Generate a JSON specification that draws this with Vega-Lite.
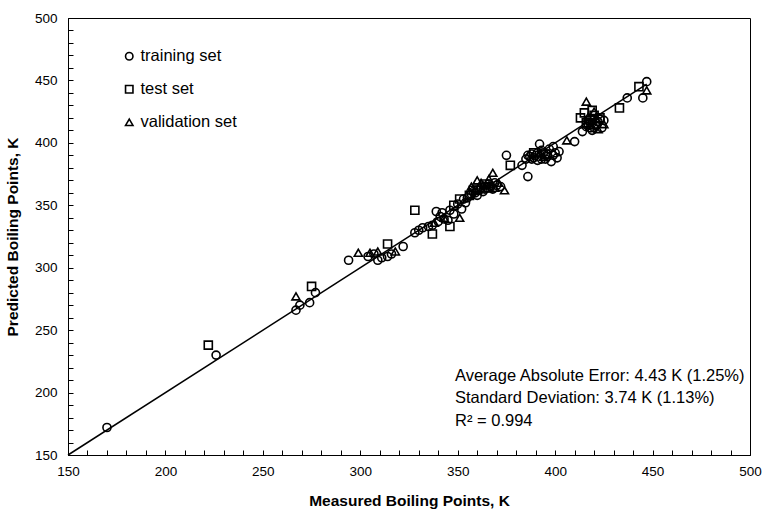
{
  "$schema": "https://vega.github.io/schema/vega-lite/v6.json",
  "width": 682,
  "height": 437,
  "autosize": {"type": "none"},
  "padding": {"left": 68, "top": 18, "right": 15, "bottom": 57},
  "background": "white",
  "config": {
    "view": {"stroke": "black", "strokeWidth": 1},
    "font": "Liberation Sans",
    "axis": {
      "grid": false,
      "domainColor": "black",
      "domainWidth": 1,
      "tickColor": "black",
      "tickWidth": 1,
      "tickSize": -5,
      "labelFont": "Liberation Sans",
      "labelFontSize": 13.5,
      "labelColor": "black",
      "titleFont": "Liberation Sans",
      "titleFontSize": 15.5,
      "titleFontWeight": "bold",
      "titleColor": "black"
    }
  },
  "resolve": {"axis": {"x": "independent", "y": "independent"}},
  "layer": [
    {
      "data": {"values": [{"measured": 150, "predicted": 150}, {"measured": 447, "predicted": 447}]},
      "mark": {"type": "line", "color": "black", "strokeWidth": 1.5},
      "encoding": {
        "x": {
          "field": "measured", "type": "quantitative",
          "scale": {"domain": [150, 500], "nice": false, "zero": false},
          "axis": {
            "orient": "bottom", "title": null, "labels": false, "domain": false,
            "values": [160,170,180,190,210,220,230,240,260,270,280,290,310,320,330,340,360,370,380,390,410,420,430,440,460,470,480,490]
          }
        },
        "y": {
          "field": "predicted", "type": "quantitative",
          "scale": {"domain": [150, 500], "nice": false, "zero": false},
          "axis": {
            "orient": "left", "title": null, "labels": false, "domain": false,
            "values": [160,170,180,190,210,220,230,240,260,270,280,290,310,320,330,340,360,370,380,390,410,420,430,440,460,470,480,490]
          }
        }
      }
    },
    {
      "data": {"values": [
        {"set": "training set", "measured": 170, "predicted": 172},
        {"set": "training set", "measured": 226, "predicted": 230},
        {"set": "training set", "measured": 267, "predicted": 266},
        {"set": "training set", "measured": 269, "predicted": 270},
        {"set": "training set", "measured": 274, "predicted": 272},
        {"set": "training set", "measured": 277, "predicted": 280},
        {"set": "training set", "measured": 294, "predicted": 306},
        {"set": "training set", "measured": 304, "predicted": 309},
        {"set": "training set", "measured": 307, "predicted": 311},
        {"set": "training set", "measured": 309, "predicted": 306},
        {"set": "training set", "measured": 311, "predicted": 308},
        {"set": "training set", "measured": 314, "predicted": 309},
        {"set": "training set", "measured": 316, "predicted": 311},
        {"set": "training set", "measured": 322, "predicted": 317},
        {"set": "training set", "measured": 328, "predicted": 328},
        {"set": "training set", "measured": 330, "predicted": 330},
        {"set": "training set", "measured": 332, "predicted": 332},
        {"set": "training set", "measured": 335, "predicted": 333},
        {"set": "training set", "measured": 337, "predicted": 334},
        {"set": "training set", "measured": 339, "predicted": 345},
        {"set": "training set", "measured": 340, "predicted": 337},
        {"set": "training set", "measured": 341, "predicted": 341},
        {"set": "training set", "measured": 342, "predicted": 344},
        {"set": "training set", "measured": 343, "predicted": 339},
        {"set": "training set", "measured": 345, "predicted": 338},
        {"set": "training set", "measured": 346, "predicted": 346},
        {"set": "training set", "measured": 348, "predicted": 343},
        {"set": "training set", "measured": 350, "predicted": 351},
        {"set": "training set", "measured": 352, "predicted": 347},
        {"set": "training set", "measured": 353, "predicted": 355},
        {"set": "training set", "measured": 354, "predicted": 352},
        {"set": "training set", "measured": 355, "predicted": 356},
        {"set": "training set", "measured": 356, "predicted": 358},
        {"set": "training set", "measured": 357, "predicted": 359},
        {"set": "training set", "measured": 358, "predicted": 361},
        {"set": "training set", "measured": 359, "predicted": 360},
        {"set": "training set", "measured": 360, "predicted": 358},
        {"set": "training set", "measured": 361, "predicted": 362},
        {"set": "training set", "measured": 362, "predicted": 364},
        {"set": "training set", "measured": 363, "predicted": 361},
        {"set": "training set", "measured": 364, "predicted": 363},
        {"set": "training set", "measured": 365, "predicted": 364},
        {"set": "training set", "measured": 366, "predicted": 367},
        {"set": "training set", "measured": 367, "predicted": 365},
        {"set": "training set", "measured": 368, "predicted": 363},
        {"set": "training set", "measured": 369, "predicted": 368},
        {"set": "training set", "measured": 370, "predicted": 366},
        {"set": "training set", "measured": 372, "predicted": 365},
        {"set": "training set", "measured": 375, "predicted": 390},
        {"set": "training set", "measured": 383, "predicted": 382},
        {"set": "training set", "measured": 386, "predicted": 373},
        {"set": "training set", "measured": 385, "predicted": 387},
        {"set": "training set", "measured": 386, "predicted": 390},
        {"set": "training set", "measured": 387, "predicted": 389},
        {"set": "training set", "measured": 388, "predicted": 391},
        {"set": "training set", "measured": 388, "predicted": 387},
        {"set": "training set", "measured": 389, "predicted": 388},
        {"set": "training set", "measured": 390, "predicted": 390},
        {"set": "training set", "measured": 391, "predicted": 386},
        {"set": "training set", "measured": 391, "predicted": 392},
        {"set": "training set", "measured": 392, "predicted": 399},
        {"set": "training set", "measured": 393, "predicted": 387},
        {"set": "training set", "measured": 393, "predicted": 394},
        {"set": "training set", "measured": 394, "predicted": 392},
        {"set": "training set", "measured": 395, "predicted": 387},
        {"set": "training set", "measured": 396, "predicted": 389},
        {"set": "training set", "measured": 396, "predicted": 391},
        {"set": "training set", "measured": 397, "predicted": 395},
        {"set": "training set", "measured": 398, "predicted": 385},
        {"set": "training set", "measured": 399, "predicted": 397},
        {"set": "training set", "measured": 399, "predicted": 390},
        {"set": "training set", "measured": 400, "predicted": 392},
        {"set": "training set", "measured": 401, "predicted": 388},
        {"set": "training set", "measured": 402, "predicted": 393},
        {"set": "training set", "measured": 410, "predicted": 401},
        {"set": "training set", "measured": 414, "predicted": 409},
        {"set": "training set", "measured": 416, "predicted": 413},
        {"set": "training set", "measured": 417, "predicted": 415},
        {"set": "training set", "measured": 418, "predicted": 412},
        {"set": "training set", "measured": 419, "predicted": 416},
        {"set": "training set", "measured": 419, "predicted": 410},
        {"set": "training set", "measured": 420, "predicted": 412},
        {"set": "training set", "measured": 421, "predicted": 414},
        {"set": "training set", "measured": 422, "predicted": 417},
        {"set": "training set", "measured": 423, "predicted": 419},
        {"set": "training set", "measured": 424, "predicted": 412},
        {"set": "training set", "measured": 425, "predicted": 418},
        {"set": "training set", "measured": 437, "predicted": 436},
        {"set": "training set", "measured": 445, "predicted": 436},
        {"set": "training set", "measured": 447, "predicted": 449},
        {"set": "test set", "measured": 222, "predicted": 238},
        {"set": "test set", "measured": 275, "predicted": 285},
        {"set": "test set", "measured": 314, "predicted": 319},
        {"set": "test set", "measured": 328, "predicted": 346},
        {"set": "test set", "measured": 337, "predicted": 327},
        {"set": "test set", "measured": 346, "predicted": 333},
        {"set": "test set", "measured": 348, "predicted": 350},
        {"set": "test set", "measured": 351, "predicted": 355},
        {"set": "test set", "measured": 356, "predicted": 358},
        {"set": "test set", "measured": 358, "predicted": 362},
        {"set": "test set", "measured": 360, "predicted": 363},
        {"set": "test set", "measured": 364, "predicted": 367},
        {"set": "test set", "measured": 366, "predicted": 364},
        {"set": "test set", "measured": 377, "predicted": 382},
        {"set": "test set", "measured": 389, "predicted": 392},
        {"set": "test set", "measured": 395, "predicted": 391},
        {"set": "test set", "measured": 413, "predicted": 420},
        {"set": "test set", "measured": 415, "predicted": 424},
        {"set": "test set", "measured": 416, "predicted": 416},
        {"set": "test set", "measured": 418, "predicted": 418},
        {"set": "test set", "measured": 419, "predicted": 426},
        {"set": "test set", "measured": 420, "predicted": 422},
        {"set": "test set", "measured": 423, "predicted": 420},
        {"set": "test set", "measured": 433, "predicted": 428},
        {"set": "test set", "measured": 443, "predicted": 445},
        {"set": "validation set", "measured": 267, "predicted": 277},
        {"set": "validation set", "measured": 299, "predicted": 312},
        {"set": "validation set", "measured": 305, "predicted": 312},
        {"set": "validation set", "measured": 309, "predicted": 313},
        {"set": "validation set", "measured": 318, "predicted": 313},
        {"set": "validation set", "measured": 338, "predicted": 336},
        {"set": "validation set", "measured": 343, "predicted": 340},
        {"set": "validation set", "measured": 351, "predicted": 340},
        {"set": "validation set", "measured": 357, "predicted": 365},
        {"set": "validation set", "measured": 360, "predicted": 370},
        {"set": "validation set", "measured": 362, "predicted": 368},
        {"set": "validation set", "measured": 363, "predicted": 366},
        {"set": "validation set", "measured": 366, "predicted": 371},
        {"set": "validation set", "measured": 368, "predicted": 376},
        {"set": "validation set", "measured": 369, "predicted": 364},
        {"set": "validation set", "measured": 371, "predicted": 368},
        {"set": "validation set", "measured": 374, "predicted": 362},
        {"set": "validation set", "measured": 392, "predicted": 392},
        {"set": "validation set", "measured": 394, "predicted": 389},
        {"set": "validation set", "measured": 406, "predicted": 402},
        {"set": "validation set", "measured": 416, "predicted": 433},
        {"set": "validation set", "measured": 417, "predicted": 421},
        {"set": "validation set", "measured": 418, "predicted": 414},
        {"set": "validation set", "measured": 420, "predicted": 425},
        {"set": "validation set", "measured": 421, "predicted": 419},
        {"set": "validation set", "measured": 422, "predicted": 411},
        {"set": "validation set", "measured": 425, "predicted": 415},
        {"set": "validation set", "measured": 447, "predicted": 442}
      ]},
      "mark": {"type": "point", "filled": false, "color": "black", "strokeWidth": 1.6, "size": 65, "opacity": 1},
      "encoding": {
        "x": {
          "field": "measured", "type": "quantitative",
          "scale": {"domain": [150, 500], "nice": false, "zero": false},
          "axis": {
            "orient": "bottom",
            "title": "Measured Boiling Points, K",
            "values": [150, 200, 250, 300, 350, 400, 450, 500],
            "labelOverlap": false,
            "labelFlush": false,
            "labelPadding": 14,
            "titlePadding": 16
          }
        },
        "y": {
          "field": "predicted", "type": "quantitative",
          "scale": {"domain": [150, 500], "nice": false, "zero": false},
          "axis": {
            "orient": "left",
            "title": "Predicted Boiling Points, K",
            "values": [150, 200, 250, 300, 350, 400, 450, 500],
            "labelOverlap": false,
            "labelFlush": false,
            "labelPadding": 16,
            "titlePadding": 14
          }
        },
        "shape": {
          "field": "set", "type": "nominal",
          "scale": {"domain": ["training set", "test set", "validation set"], "range": ["circle", "square", "triangle-up"]},
          "legend": {
            "title": null,
            "orient": "none",
            "legendX": 53,
            "legendY": 30,
            "labelFont": "Liberation Sans",
            "labelFontSize": 16.5,
            "labelColor": "black",
            "symbolSize": 55,
            "symbolStrokeWidth": 1.6,
            "symbolStrokeColor": "black",
            "symbolFillColor": "transparent",
            "symbolType": "circle",
            "rowPadding": 16,
            "labelOffset": 3
          }
        }
      }
    },
    {
      "data": {"values": [
        {"measured": 348.6, "predicted": 213.3, "note": "Average Absolute Error:  4.43 K (1.25%)"},
        {"measured": 348.6, "predicted": 195.6, "note": "Standard Deviation: 3.74 K (1.13%)"},
        {"measured": 348.6, "predicted": 177.3, "note": "R² = 0.994"}
      ]},
      "mark": {"type": "text", "align": "left", "baseline": "middle", "fontSize": 16.5, "font": "Liberation Sans", "color": "black"},
      "encoding": {
        "x": {"field": "measured", "type": "quantitative", "axis": null},
        "y": {"field": "predicted", "type": "quantitative", "axis": null},
        "text": {"field": "note"}
      }
    }
  ]
}
